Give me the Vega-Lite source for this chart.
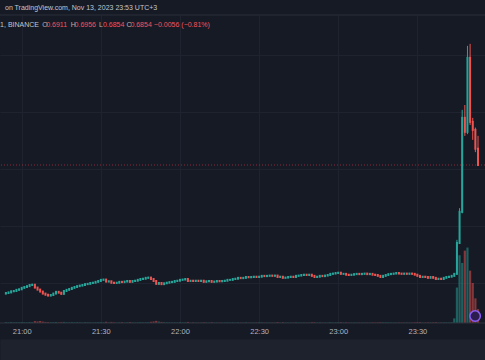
{
  "$schema": "https://vega.github.io/schema/vega-lite/v6.json",
  "width": 485,
  "height": 308,
  "autosize": "none",
  "padding": {"top": 15, "left": 0, "right": 0, "bottom": 37},
  "background": "#161a25",
  "config": {"view": {"stroke": null}},
  "data": {
    "format": {"parse": {"t": "date:'%H:%M'"}},
    "values": [
      {"t":"20:54","o":0.6404,"h":0.6408,"l":0.6402,"c":0.6406,"v":0.05},
      {"t":"20:55","o":0.6406,"h":0.6410,"l":0.6404,"c":0.6408,"v":0.04},
      {"t":"20:56","o":0.6408,"h":0.6413,"l":0.6407,"c":0.6412,"v":0.06},
      {"t":"20:57","o":0.6412,"h":0.6415,"l":0.6410,"c":0.6413,"v":0.04},
      {"t":"20:58","o":0.6413,"h":0.6418,"l":0.6412,"c":0.6417,"v":0.05},
      {"t":"20:59","o":0.6417,"h":0.6421,"l":0.6415,"c":0.6419,"v":0.04},
      {"t":"21:00","o":0.6419,"h":0.6425,"l":0.6418,"c":0.6424,"v":0.06},
      {"t":"21:01","o":0.6424,"h":0.6429,"l":0.6422,"c":0.6427,"v":0.05},
      {"t":"21:02","o":0.6427,"h":0.6431,"l":0.6425,"c":0.6430,"v":0.04},
      {"t":"21:03","o":0.6430,"h":0.6436,"l":0.6429,"c":0.6434,"v":0.06},
      {"t":"21:04","o":0.6434,"h":0.6438,"l":0.6432,"c":0.6435,"v":0.05},
      {"t":"21:05","o":0.6435,"h":0.6436,"l":0.6423,"c":0.6425,"v":0.12},
      {"t":"21:06","o":0.6425,"h":0.6427,"l":0.6416,"c":0.6418,"v":0.10},
      {"t":"21:07","o":0.6418,"h":0.6420,"l":0.6409,"c":0.6411,"v":0.13},
      {"t":"21:08","o":0.6411,"h":0.6412,"l":0.6402,"c":0.6404,"v":0.09},
      {"t":"21:09","o":0.6404,"h":0.6406,"l":0.6398,"c":0.6400,"v":0.07},
      {"t":"21:10","o":0.6400,"h":0.6402,"l":0.6395,"c":0.6397,"v":0.06},
      {"t":"21:11","o":0.6397,"h":0.6401,"l":0.6395,"c":0.6399,"v":0.05},
      {"t":"21:12","o":0.6399,"h":0.6405,"l":0.6398,"c":0.6404,"v":0.05},
      {"t":"21:13","o":0.6404,"h":0.6411,"l":0.6403,"c":0.6410,"v":0.06},
      {"t":"21:14","o":0.6410,"h":0.6412,"l":0.6406,"c":0.6407,"v":0.04},
      {"t":"21:15","o":0.6407,"h":0.6408,"l":0.6401,"c":0.6403,"v":0.05},
      {"t":"21:16","o":0.6403,"h":0.6414,"l":0.6402,"c":0.6413,"v":0.07},
      {"t":"21:17","o":0.6413,"h":0.6418,"l":0.6411,"c":0.6417,"v":0.05},
      {"t":"21:18","o":0.6417,"h":0.6422,"l":0.6416,"c":0.6420,"v":0.04},
      {"t":"21:19","o":0.6420,"h":0.6425,"l":0.6418,"c":0.6424,"v":0.05},
      {"t":"21:20","o":0.6424,"h":0.6428,"l":0.6423,"c":0.6427,"v":0.04},
      {"t":"21:21","o":0.6427,"h":0.6432,"l":0.6425,"c":0.6430,"v":0.05},
      {"t":"21:22","o":0.6430,"h":0.6434,"l":0.6429,"c":0.6432,"v":0.04},
      {"t":"21:23","o":0.6432,"h":0.6435,"l":0.6430,"c":0.6434,"v":0.03},
      {"t":"21:24","o":0.6434,"h":0.6439,"l":0.6433,"c":0.6437,"v":0.05},
      {"t":"21:25","o":0.6437,"h":0.6440,"l":0.6435,"c":0.6438,"v":0.04},
      {"t":"21:26","o":0.6438,"h":0.6442,"l":0.6437,"c":0.6441,"v":0.04},
      {"t":"21:27","o":0.6441,"h":0.6444,"l":0.6439,"c":0.6442,"v":0.03},
      {"t":"21:28","o":0.6442,"h":0.6446,"l":0.6441,"c":0.6445,"v":0.04},
      {"t":"21:29","o":0.6445,"h":0.6450,"l":0.6443,"c":0.6448,"v":0.05},
      {"t":"21:30","o":0.6448,"h":0.6453,"l":0.6447,"c":0.6452,"v":0.05},
      {"t":"21:31","o":0.6452,"h":0.6455,"l":0.6450,"c":0.6453,"v":0.04},
      {"t":"21:32","o":0.6453,"h":0.6454,"l":0.6444,"c":0.6446,"v":0.08},
      {"t":"21:33","o":0.6446,"h":0.6449,"l":0.6444,"c":0.6447,"v":0.04},
      {"t":"21:34","o":0.6447,"h":0.6448,"l":0.6440,"c":0.6442,"v":0.07},
      {"t":"21:35","o":0.6442,"h":0.6444,"l":0.6439,"c":0.6441,"v":0.04},
      {"t":"21:36","o":0.6441,"h":0.6444,"l":0.6440,"c":0.6442,"v":0.03},
      {"t":"21:37","o":0.6442,"h":0.6446,"l":0.6441,"c":0.6445,"v":0.04},
      {"t":"21:38","o":0.6445,"h":0.6447,"l":0.6442,"c":0.6444,"v":0.05},
      {"t":"21:39","o":0.6444,"h":0.6447,"l":0.6443,"c":0.6446,"v":0.03},
      {"t":"21:40","o":0.6446,"h":0.6449,"l":0.6445,"c":0.6448,"v":0.04},
      {"t":"21:41","o":0.6448,"h":0.6449,"l":0.6443,"c":0.6445,"v":0.06},
      {"t":"21:42","o":0.6445,"h":0.6450,"l":0.6444,"c":0.6448,"v":0.04},
      {"t":"21:43","o":0.6448,"h":0.6451,"l":0.6447,"c":0.6449,"v":0.03},
      {"t":"21:44","o":0.6449,"h":0.6453,"l":0.6448,"c":0.6452,"v":0.04},
      {"t":"21:45","o":0.6452,"h":0.6456,"l":0.6450,"c":0.6455,"v":0.05},
      {"t":"21:46","o":0.6455,"h":0.6458,"l":0.6454,"c":0.6456,"v":0.04},
      {"t":"21:47","o":0.6456,"h":0.6460,"l":0.6455,"c":0.6459,"v":0.04},
      {"t":"21:48","o":0.6459,"h":0.6462,"l":0.6457,"c":0.6460,"v":0.05},
      {"t":"21:49","o":0.6460,"h":0.6461,"l":0.6453,"c":0.6455,"v":0.08},
      {"t":"21:50","o":0.6455,"h":0.6456,"l":0.6446,"c":0.6448,"v":0.10},
      {"t":"21:51","o":0.6448,"h":0.6449,"l":0.6436,"c":0.6438,"v":0.14},
      {"t":"21:52","o":0.6438,"h":0.6443,"l":0.6436,"c":0.6441,"v":0.09},
      {"t":"21:53","o":0.6441,"h":0.6442,"l":0.6435,"c":0.6437,"v":0.07},
      {"t":"21:54","o":0.6437,"h":0.6441,"l":0.6436,"c":0.6440,"v":0.05},
      {"t":"21:55","o":0.6440,"h":0.6443,"l":0.6439,"c":0.6442,"v":0.04},
      {"t":"21:56","o":0.6442,"h":0.6445,"l":0.6441,"c":0.6444,"v":0.04},
      {"t":"21:57","o":0.6444,"h":0.6447,"l":0.6443,"c":0.6445,"v":0.03},
      {"t":"21:58","o":0.6445,"h":0.6449,"l":0.6444,"c":0.6448,"v":0.04},
      {"t":"21:59","o":0.6448,"h":0.6451,"l":0.6447,"c":0.6449,"v":0.03},
      {"t":"22:00","o":0.6449,"h":0.6453,"l":0.6448,"c":0.6452,"v":0.05},
      {"t":"22:01","o":0.6452,"h":0.6455,"l":0.6451,"c":0.6453,"v":0.04},
      {"t":"22:02","o":0.6453,"h":0.6456,"l":0.6452,"c":0.6455,"v":0.04},
      {"t":"22:03","o":0.6455,"h":0.6456,"l":0.6447,"c":0.6448,"v":0.07},
      {"t":"22:04","o":0.6448,"h":0.6451,"l":0.6447,"c":0.6449,"v":0.03},
      {"t":"22:05","o":0.6449,"h":0.6450,"l":0.6446,"c":0.6448,"v":0.04},
      {"t":"22:06","o":0.6448,"h":0.6450,"l":0.6447,"c":0.6449,"v":0.03},
      {"t":"22:07","o":0.6449,"h":0.6450,"l":0.6447,"c":0.6448,"v":0.03},
      {"t":"22:08","o":0.6448,"h":0.6451,"l":0.6447,"c":0.6449,"v":0.03},
      {"t":"22:09","o":0.6449,"h":0.6450,"l":0.6444,"c":0.6445,"v":0.05},
      {"t":"22:10","o":0.6445,"h":0.6448,"l":0.6444,"c":0.6447,"v":0.04},
      {"t":"22:11","o":0.6447,"h":0.6449,"l":0.6446,"c":0.6448,"v":0.03},
      {"t":"22:12","o":0.6448,"h":0.6449,"l":0.6444,"c":0.6445,"v":0.05},
      {"t":"22:13","o":0.6445,"h":0.6447,"l":0.6444,"c":0.6446,"v":0.03},
      {"t":"22:14","o":0.6446,"h":0.6449,"l":0.6445,"c":0.6448,"v":0.03},
      {"t":"22:15","o":0.6448,"h":0.6449,"l":0.6446,"c":0.6447,"v":0.03},
      {"t":"22:16","o":0.6447,"h":0.6450,"l":0.6446,"c":0.6448,"v":0.03},
      {"t":"22:17","o":0.6448,"h":0.6450,"l":0.6447,"c":0.6449,"v":0.03},
      {"t":"22:18","o":0.6449,"h":0.6453,"l":0.6448,"c":0.6452,"v":0.04},
      {"t":"22:19","o":0.6452,"h":0.6454,"l":0.6451,"c":0.6452,"v":0.03},
      {"t":"22:20","o":0.6452,"h":0.6456,"l":0.6451,"c":0.6455,"v":0.04},
      {"t":"22:21","o":0.6455,"h":0.6457,"l":0.6454,"c":0.6456,"v":0.03},
      {"t":"22:22","o":0.6456,"h":0.6460,"l":0.6455,"c":0.6459,"v":0.04},
      {"t":"22:23","o":0.6459,"h":0.6460,"l":0.6457,"c":0.6458,"v":0.03},
      {"t":"22:24","o":0.6458,"h":0.6460,"l":0.6457,"c":0.6459,"v":0.03},
      {"t":"22:25","o":0.6459,"h":0.6463,"l":0.6458,"c":0.6462,"v":0.04},
      {"t":"22:26","o":0.6462,"h":0.6463,"l":0.6460,"c":0.6461,"v":0.03},
      {"t":"22:27","o":0.6461,"h":0.6463,"l":0.6460,"c":0.6462,"v":0.03},
      {"t":"22:28","o":0.6462,"h":0.6464,"l":0.6461,"c":0.6463,"v":0.03},
      {"t":"22:29","o":0.6463,"h":0.6464,"l":0.6461,"c":0.6462,"v":0.03},
      {"t":"22:30","o":0.6462,"h":0.6465,"l":0.6461,"c":0.6463,"v":0.04},
      {"t":"22:31","o":0.6463,"h":0.6467,"l":0.6462,"c":0.6466,"v":0.04},
      {"t":"22:32","o":0.6466,"h":0.6467,"l":0.6464,"c":0.6465,"v":0.03},
      {"t":"22:33","o":0.6465,"h":0.6467,"l":0.6464,"c":0.6466,"v":0.03},
      {"t":"22:34","o":0.6466,"h":0.6468,"l":0.6465,"c":0.6467,"v":0.03},
      {"t":"22:35","o":0.6467,"h":0.6468,"l":0.6465,"c":0.6466,"v":0.03},
      {"t":"22:36","o":0.6466,"h":0.6469,"l":0.6465,"c":0.6467,"v":0.03},
      {"t":"22:37","o":0.6467,"h":0.6468,"l":0.6461,"c":0.6462,"v":0.06},
      {"t":"22:38","o":0.6462,"h":0.6464,"l":0.6461,"c":0.6463,"v":0.03},
      {"t":"22:39","o":0.6463,"h":0.6464,"l":0.6458,"c":0.6459,"v":0.05},
      {"t":"22:40","o":0.6459,"h":0.6461,"l":0.6458,"c":0.6460,"v":0.03},
      {"t":"22:41","o":0.6460,"h":0.6463,"l":0.6459,"c":0.6462,"v":0.03},
      {"t":"22:42","o":0.6462,"h":0.6464,"l":0.6461,"c":0.6463,"v":0.03},
      {"t":"22:43","o":0.6463,"h":0.6464,"l":0.6461,"c":0.6462,"v":0.03},
      {"t":"22:44","o":0.6462,"h":0.6467,"l":0.6461,"c":0.6466,"v":0.04},
      {"t":"22:45","o":0.6466,"h":0.6468,"l":0.6465,"c":0.6467,"v":0.03},
      {"t":"22:46","o":0.6467,"h":0.6470,"l":0.6466,"c":0.6469,"v":0.03},
      {"t":"22:47","o":0.6469,"h":0.6471,"l":0.6468,"c":0.6470,"v":0.03},
      {"t":"22:48","o":0.6470,"h":0.6471,"l":0.6468,"c":0.6469,"v":0.03},
      {"t":"22:49","o":0.6469,"h":0.6472,"l":0.6468,"c":0.6470,"v":0.03},
      {"t":"22:50","o":0.6470,"h":0.6471,"l":0.6465,"c":0.6466,"v":0.05},
      {"t":"22:51","o":0.6466,"h":0.6467,"l":0.6461,"c":0.6462,"v":0.05},
      {"t":"22:52","o":0.6462,"h":0.6464,"l":0.6461,"c":0.6463,"v":0.03},
      {"t":"22:53","o":0.6463,"h":0.6467,"l":0.6462,"c":0.6466,"v":0.04},
      {"t":"22:54","o":0.6466,"h":0.6467,"l":0.6464,"c":0.6465,"v":0.03},
      {"t":"22:55","o":0.6465,"h":0.6468,"l":0.6464,"c":0.6467,"v":0.03},
      {"t":"22:56","o":0.6467,"h":0.6470,"l":0.6466,"c":0.6469,"v":0.03},
      {"t":"22:57","o":0.6469,"h":0.6474,"l":0.6468,"c":0.6473,"v":0.05},
      {"t":"22:58","o":0.6473,"h":0.6475,"l":0.6472,"c":0.6474,"v":0.03},
      {"t":"22:59","o":0.6474,"h":0.6477,"l":0.6473,"c":0.6476,"v":0.04},
      {"t":"23:00","o":0.6476,"h":0.6479,"l":0.6475,"c":0.6477,"v":0.04},
      {"t":"23:01","o":0.6477,"h":0.6478,"l":0.6472,"c":0.6473,"v":0.05},
      {"t":"23:02","o":0.6473,"h":0.6475,"l":0.6472,"c":0.6473,"v":0.03},
      {"t":"23:03","o":0.6473,"h":0.6474,"l":0.6469,"c":0.6470,"v":0.04},
      {"t":"23:04","o":0.6470,"h":0.6471,"l":0.6468,"c":0.6469,"v":0.03},
      {"t":"23:05","o":0.6469,"h":0.6471,"l":0.6468,"c":0.6470,"v":0.03},
      {"t":"23:06","o":0.6470,"h":0.6473,"l":0.6469,"c":0.6472,"v":0.03},
      {"t":"23:07","o":0.6472,"h":0.6474,"l":0.6471,"c":0.6473,"v":0.03},
      {"t":"23:08","o":0.6473,"h":0.6474,"l":0.6471,"c":0.6472,"v":0.03},
      {"t":"23:09","o":0.6472,"h":0.6474,"l":0.6471,"c":0.6473,"v":0.03},
      {"t":"23:10","o":0.6473,"h":0.6475,"l":0.6472,"c":0.6474,"v":0.03},
      {"t":"23:11","o":0.6474,"h":0.6475,"l":0.6471,"c":0.6472,"v":0.03},
      {"t":"23:12","o":0.6472,"h":0.6474,"l":0.6471,"c":0.6473,"v":0.03},
      {"t":"23:13","o":0.6473,"h":0.6474,"l":0.6469,"c":0.6470,"v":0.04},
      {"t":"23:14","o":0.6470,"h":0.6471,"l":0.6468,"c":0.6469,"v":0.03},
      {"t":"23:15","o":0.6469,"h":0.6470,"l":0.6465,"c":0.6466,"v":0.04},
      {"t":"23:16","o":0.6466,"h":0.6467,"l":0.6461,"c":0.6462,"v":0.05},
      {"t":"23:17","o":0.6462,"h":0.6467,"l":0.6461,"c":0.6466,"v":0.04},
      {"t":"23:18","o":0.6466,"h":0.6470,"l":0.6465,"c":0.6469,"v":0.04},
      {"t":"23:19","o":0.6469,"h":0.6473,"l":0.6468,"c":0.6472,"v":0.04},
      {"t":"23:20","o":0.6472,"h":0.6474,"l":0.6471,"c":0.6473,"v":0.03},
      {"t":"23:21","o":0.6473,"h":0.6476,"l":0.6472,"c":0.6474,"v":0.03},
      {"t":"23:22","o":0.6474,"h":0.6477,"l":0.6473,"c":0.6476,"v":0.03},
      {"t":"23:23","o":0.6476,"h":0.6477,"l":0.6473,"c":0.6474,"v":0.03},
      {"t":"23:24","o":0.6474,"h":0.6475,"l":0.6472,"c":0.6473,"v":0.03},
      {"t":"23:25","o":0.6473,"h":0.6475,"l":0.6472,"c":0.6474,"v":0.03},
      {"t":"23:26","o":0.6474,"h":0.6475,"l":0.6472,"c":0.6473,"v":0.03},
      {"t":"23:27","o":0.6473,"h":0.6475,"l":0.6472,"c":0.6474,"v":0.03},
      {"t":"23:28","o":0.6474,"h":0.6475,"l":0.6472,"c":0.6473,"v":0.03},
      {"t":"23:29","o":0.6473,"h":0.6474,"l":0.6469,"c":0.6470,"v":0.04},
      {"t":"23:30","o":0.6470,"h":0.6471,"l":0.6465,"c":0.6466,"v":0.05},
      {"t":"23:31","o":0.6466,"h":0.6467,"l":0.6461,"c":0.6462,"v":0.05},
      {"t":"23:32","o":0.6462,"h":0.6464,"l":0.6461,"c":0.6463,"v":0.03},
      {"t":"23:33","o":0.6463,"h":0.6464,"l":0.6461,"c":0.6462,"v":0.03},
      {"t":"23:34","o":0.6462,"h":0.6463,"l":0.6458,"c":0.6459,"v":0.04},
      {"t":"23:35","o":0.6459,"h":0.6463,"l":0.6458,"c":0.6462,"v":0.04},
      {"t":"23:36","o":0.6462,"h":0.6463,"l":0.6458,"c":0.6459,"v":0.04},
      {"t":"23:37","o":0.6459,"h":0.6460,"l":0.6454,"c":0.6455,"v":0.05},
      {"t":"23:38","o":0.6455,"h":0.6457,"l":0.6454,"c":0.6456,"v":0.03},
      {"t":"23:39","o":0.6456,"h":0.6457,"l":0.6454,"c":0.6455,"v":0.03},
      {"t":"23:40","o":0.6455,"h":0.6460,"l":0.6454,"c":0.6459,"v":0.04},
      {"t":"23:41","o":0.6459,"h":0.6463,"l":0.6458,"c":0.6462,"v":0.04},
      {"t":"23:42","o":0.6462,"h":0.6464,"l":0.6461,"c":0.6463,"v":0.03},
      {"t":"23:43","o":0.6463,"h":0.6467,"l":0.6462,"c":0.6466,"v":0.05},
      {"t":"23:44","o":0.6466,"h":0.6476,"l":0.6464,"c":0.6473,"v":0.3},
      {"t":"23:45","o":0.6473,"h":0.6592,"l":0.6470,"c":0.6581,"v":2.3},
      {"t":"23:46","o":0.6581,"h":0.6703,"l":0.6578,"c":0.6690,"v":4.4},
      {"t":"23:47","o":0.6690,"h":0.7047,"l":0.6685,"c":0.7019,"v":3.9},
      {"t":"23:48","o":0.7019,"h":0.7064,"l":0.6956,"c":0.6970,"v":4.7},
      {"t":"23:49","o":0.6970,"h":0.7271,"l":0.6962,"c":0.7229,"v":4.9},
      {"t":"23:50","o":0.7229,"h":0.7278,"l":0.6994,"c":0.7005,"v":3.4},
      {"t":"23:51","o":0.7005,"h":0.7019,"l":0.6942,"c":0.6977,"v":2.6},
      {"t":"23:52","o":0.6977,"h":0.6985,"l":0.6899,"c":0.6911,"v":1.6},
      {"t":"23:53","o":0.6911,"h":0.6956,"l":0.6854,"c":0.6854,"v":0.9}
    ]
  },
  "layer": [
    {
      "layer": [
        {
          "data": {"values": [{}]},
          "mark": {"type": "rule", "color": "#2a2e39", "strokeWidth": 1},
          "encoding": {
            "y": {"datum": 0.7379, "type": "quantitative", "scale": {"domain": [0.6301, 0.7379], "zero": false, "nice": false}}
          }
        },
        {
          "data": {"values": [{}]},
          "mark": {"type": "rule", "color": "#f23645", "opacity": 0.55, "strokeWidth": 1, "strokeDash": [1, 2]},
          "encoding": {
            "y": {"datum": 0.6854, "type": "quantitative", "scale": {"domain": [0.6301, 0.7379], "zero": false, "nice": false}}
          }
        },
        {
          "mark": {"type": "rule", "strokeWidth": 1},
          "encoding": {
            "x": {
              "field": "t", "type": "temporal",
              "scale": {"domain": [{"year": 1900, "month": 1, "date": 1, "hours": 20, "minutes": 53, "seconds": 40}, {"year": 1900, "month": 1, "date": 1, "hours": 23, "minutes": 53, "seconds": 45}]},
              "axis": {
                "orient": "bottom", "title": null, "format": "%H:%M",
                "values": [
                  {"year": 1900, "month": 1, "date": 1, "hours": 21, "minutes": 0},
                  {"year": 1900, "month": 1, "date": 1, "hours": 21, "minutes": 30},
                  {"year": 1900, "month": 1, "date": 1, "hours": 22, "minutes": 0},
                  {"year": 1900, "month": 1, "date": 1, "hours": 22, "minutes": 30},
                  {"year": 1900, "month": 1, "date": 1, "hours": 23, "minutes": 0},
                  {"year": 1900, "month": 1, "date": 1, "hours": 23, "minutes": 30}
                ],
                "offset": 26.5, "domain": true, "domainColor": "#1e222d", "domainWidth": 21,
                "ticks": false, "tickSize": 0, "labelPadding": -18, "labelBaseline": "middle",
                "labelColor": "#b2b5be", "labelFont": "Liberation Sans", "labelFontSize": 7.5,
                "labelFlush": false, "labelOverlap": false,
                "grid": true, "gridColor": "#1f2330", "gridWidth": 1
              }
            },
            "y": {
              "field": "l", "type": "quantitative",
              "scale": {"domain": [0.6301, 0.7379], "zero": false, "nice": false},
              "axis": {"values": [0.6441, 0.664, 0.684, 0.7039, 0.7239], "labels": false, "ticks": false, "domain": false, "title": null, "grid": true, "gridColor": "#1f2330", "gridWidth": 1}
            },
            "y2": {"field": "h"},
            "color": {"condition": {"test": "datum.c >= datum.o", "value": "#26a69a"}, "value": "#ef5350"}
          }
        },
        {
          "mark": {"type": "rule", "strokeWidth": 2, "strokeCap": "square"},
          "encoding": {
            "x": {
              "field": "t", "type": "temporal",
              "scale": {"domain": [{"year": 1900, "month": 1, "date": 1, "hours": 20, "minutes": 53, "seconds": 40}, {"year": 1900, "month": 1, "date": 1, "hours": 23, "minutes": 53, "seconds": 45}]}
            },
            "y": {"field": "o", "type": "quantitative", "scale": {"domain": [0.6301, 0.7379], "zero": false, "nice": false}},
            "y2": {"field": "c"},
            "color": {"condition": {"test": "datum.c >= datum.o", "value": "#26a69a"}, "value": "#ef5350"}
          }
        },
        {
          "data": {
            "format": {"parse": {"t": "date:'%H:%M:%S'"}},
            "values": [{"t": "20:53:40", "p": 0.74035, "s": "on TradingView.com, Nov 13, 2023 23:53 UTC+3"}]
          },
          "mark": {"type": "text", "align": "left", "baseline": "middle", "font": "Liberation Sans", "fontSize": 7, "color": "#c3c6ce"},
          "encoding": {
            "x": {
              "field": "t", "type": "temporal",
              "scale": {"domain": [{"year": 1900, "month": 1, "date": 1, "hours": 20, "minutes": 53, "seconds": 40}, {"year": 1900, "month": 1, "date": 1, "hours": 23, "minutes": 53, "seconds": 45}]}
            },
            "y": {"field": "p", "type": "quantitative", "scale": {"domain": [0.6301, 0.7379], "zero": false, "nice": false}},
            "text": {"field": "s"}
          }
        },
        {
          "data": {
            "format": {"parse": {"t": "date:'%H:%M:%S'"}},
            "values": [
              {"t": "20:51:49", "p": 0.7344, "s": "1, BINANCE", "k": "w"},
              {"t": "21:07:46", "p": 0.7344, "s": "O", "k": "g"},
              {"t": "21:09:16", "p": 0.7344, "s": "0.6911", "k": "r"},
              {"t": "21:18:33", "p": 0.7344, "s": "H", "k": "g"},
              {"t": "21:20:02", "p": 0.7344, "s": "0.6956", "k": "r"},
              {"t": "21:29:19", "p": 0.7344, "s": "L", "k": "g"},
              {"t": "21:30:48", "p": 0.7344, "s": "0.6854", "k": "r"},
              {"t": "21:39:42", "p": 0.7344, "s": "C", "k": "g"},
              {"t": "21:41:12", "p": 0.7344, "s": "0.6854", "k": "r"},
              {"t": "21:50:06", "p": 0.7344, "s": "−0.0056 (−0.81%)", "k": "r"}
            ]
          },
          "mark": {"type": "text", "align": "left", "baseline": "middle", "font": "Liberation Sans", "fontSize": 7},
          "encoding": {
            "x": {
              "field": "t", "type": "temporal",
              "scale": {"domain": [{"year": 1900, "month": 1, "date": 1, "hours": 20, "minutes": 53, "seconds": 40}, {"year": 1900, "month": 1, "date": 1, "hours": 23, "minutes": 53, "seconds": 45}]}
            },
            "y": {"field": "p", "type": "quantitative", "scale": {"domain": [0.6301, 0.7379], "zero": false, "nice": false}},
            "text": {"field": "s"},
            "color": {"field": "k", "type": "nominal", "scale": {"domain": ["w", "g", "r"], "range": ["#c3c6ce", "#b2b5be", "#f7525f"]}, "legend": null}
          }
        }
      ]
    },
    {
      "layer": [
        {
          "mark": {"type": "bar", "size": 2.2, "opacity": 0.5},
          "encoding": {
            "x": {
              "field": "t", "type": "temporal",
              "scale": {"domain": [{"year": 1900, "month": 1, "date": 1, "hours": 20, "minutes": 53, "seconds": 40}, {"year": 1900, "month": 1, "date": 1, "hours": 23, "minutes": 53, "seconds": 45}]}
            },
            "y": {"field": "v", "type": "quantitative", "scale": {"domain": [0, 20], "nice": false}, "axis": null},
            "color": {"condition": {"test": "datum.c >= datum.o", "value": "#26a69a"}, "value": "#ef5350"}
          }
        },
        {
          "data": {"values": [{}]},
          "mark": {"type": "rule", "color": "#2f333e", "strokeWidth": 1},
          "encoding": {
            "y": {"datum": 0, "type": "quantitative", "scale": {"domain": [0, 20], "nice": false}, "axis": null}
          }
        },
        {
          "data": {
            "format": {"parse": {"t": "date:'%H:%M:%S'"}},
            "values": [{"t": "23:51:54", "v": 0.45}]
          },
          "mark": {"type": "point", "shape": "circle", "filled": true, "fill": "#2b1d4d", "stroke": "#8a5cf6", "strokeWidth": 1.5, "size": 110, "opacity": 1},
          "encoding": {
            "x": {
              "field": "t", "type": "temporal",
              "scale": {"domain": [{"year": 1900, "month": 1, "date": 1, "hours": 20, "minutes": 53, "seconds": 40}, {"year": 1900, "month": 1, "date": 1, "hours": 23, "minutes": 53, "seconds": 45}]}
            },
            "y": {"field": "v", "type": "quantitative", "scale": {"domain": [0, 20], "nice": false}, "axis": null}
          }
        }
      ]
    }
  ],
  "resolve": {"scale": {"y": "independent"}}
}
